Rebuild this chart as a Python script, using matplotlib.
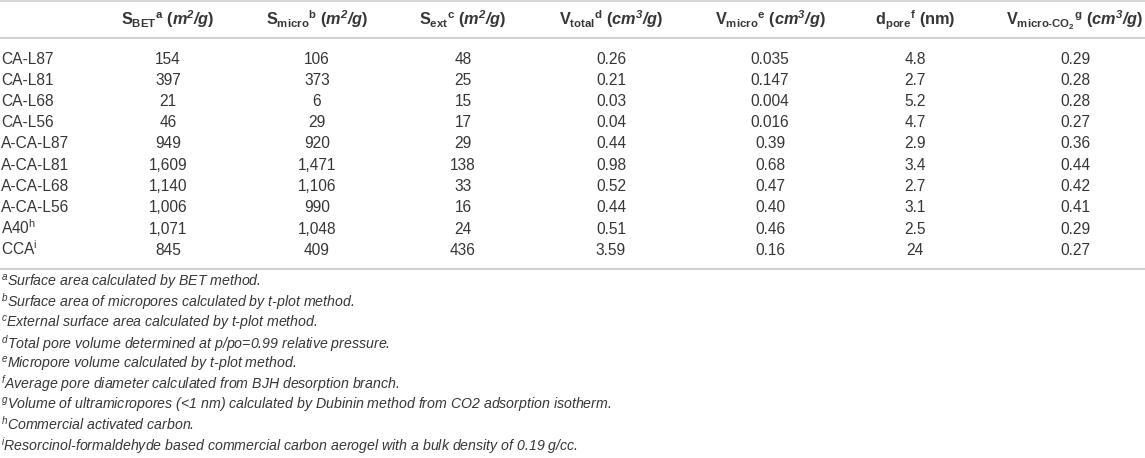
import matplotlib
matplotlib.use("Agg")
import matplotlib.pyplot as plt

plt.rcParams['font.family'] = ['Liberation Sans', 'DejaVu Sans']
plt.rcParams['mathtext.fontset'] = 'custom'
plt.rcParams['mathtext.rm'] = 'Liberation Sans'
plt.rcParams['mathtext.it'] = 'Liberation Sans:italic'
plt.rcParams['mathtext.bf'] = 'Liberation Sans:bold'
plt.rcParams['mathtext.bfit'] = 'Liberation Sans:bold:italic'

samples = ["CA-L87", "CA-L81", "CA-L68", "CA-L56", "A-CA-L87", "A-CA-L81",
           "A-CA-L68", "A-CA-L56", r"A40$^{\mathrm{h}}$", r"CCA$^{\mathrm{i}}$"]
s_bet = ["154", "397", "21", "46", "949", "1,609", "1,140", "1,006", "1,071", "845"]
s_micro = ["106", "373", "6", "29", "920", "1,471", "1,106", "990", "1,048", "409"]
s_ext = ["48", "25", "15", "17", "29", "138", "33", "16", "24", "436"]
v_total = ["0.26", "0.21", "0.03", "0.04", "0.44", "0.98", "0.52", "0.44", "0.51", "3.59"]
v_micro = ["0.035", "0.147", "0.004", "0.016", "0.39", "0.68", "0.47", "0.40", "0.46", "0.16"]
d_pore = ["4.8", "2.7", "5.2", "4.7", "2.9", "3.4", "2.7", "3.1", "2.5", "24"]
v_co2 = ["0.29", "0.28", "0.28", "0.27", "0.36", "0.44", "0.42", "0.41", "0.29", "0.27"]

HY = "\u2010"
headers = [
    r"$\mathbf{S}_{\mathbf{BET}}{}^{\mathbf{a}}$ $\mathbf{(}\mathbfit{m^2/g}\mathbf{)}$",
    r"$\mathbf{S}_{\mathbf{micro}}{}^{\mathbf{b}}$ $\mathbf{(}\mathbfit{m^2/g}\mathbf{)}$",
    r"$\mathbf{S}_{\mathbf{ext}}{}^{\mathbf{c}}$ $\mathbf{(}\mathbfit{m^2/g}\mathbf{)}$",
    r"$\mathbf{V}_{\mathbf{total}}{}^{\mathbf{d}}$ $\mathbf{(}\mathbfit{cm^3/g}\mathbf{)}$",
    r"$\mathbf{V}_{\mathbf{micro}}{}^{\mathbf{e}}$ $\mathbf{(}\mathbfit{cm^3/g}\mathbf{)}$",
    r"$\mathbf{d}_{\mathbf{pore}}{}^{\mathbf{f}}$ $\mathbf{(nm)}$",
    r"$\mathbf{V}_{\mathbf{micro" + HY + r"CO}_{\mathbf{2}}}{}^{\mathbf{g}}$ $\mathbf{(}\mathbfit{cm^3/g}\mathbf{)}$",
]

footnotes = [
    ("a", "Surface area calculated by BET method."),
    ("b", "Surface area of micropores calculated by t-plot method."),
    ("c", "External surface area calculated by t-plot method."),
    ("d", "Total pore volume determined at p/po=0.99 relative pressure."),
    ("e", "Micropore volume calculated by t-plot method."),
    ("f", "Average pore diameter calculated from BJH desorption branch."),
    ("g", "Volume of ultramicropores (<1 nm) calculated by Dubinin method from CO2 adsorption isotherm."),
    ("h", "Commercial activated carbon."),
    ("i", "Resorcinol-formaldehyde based commercial carbon aerogel with a bulk density of 0.19 g/cc."),
]

W, H = 1145, 458
fig = plt.figure(figsize=(W / 100, H / 100), dpi=100)
ax = fig.add_axes([0, 0, 1, 1])
ax.set_xlim(0, W)
ax.set_ylim(H, 0)
ax.axis('off')

txt = '#363636'
line_c = '#d0d0d0'
col_x = [168, 317, 463, 611, 770, 915, 1075]
columns = [s_bet, s_micro, s_ext, v_total, v_micro, d_pore, v_co2]

ax.axhline(1, color=line_c, lw=1.2)
ax.axhline(38, color=line_c, lw=1.5)
ax.axhline(269, color=line_c, lw=1.5)

header_base = 25.5
for x, h in zip(col_x, headers):
    ax.text(x, header_base, h, ha='center', va='baseline', fontsize=11.7, color=txt)

row_base0, row_dy = 63.5, 21.25
for i, s in enumerate(samples):
    y = row_base0 + i * row_dy
    ax.text(1, y, s, ha='left', va='baseline', fontsize=11.2, color=txt)
    for x, col in zip(col_x, columns):
        ax.text(x, y, col[i], ha='center', va='baseline', fontsize=11.2, color=txt)

fn_base0, fn_dy = 286.7, 20.5
for i, (letter, note) in enumerate(footnotes):
    y = fn_base0 + i * fn_dy
    ax.text(1, y, r"$^{\mathit{%s}}$" % letter + note, ha='left', va='baseline',
            fontsize=10.2, color=txt, style='italic')

fig.savefig('out.png', dpi=100)
